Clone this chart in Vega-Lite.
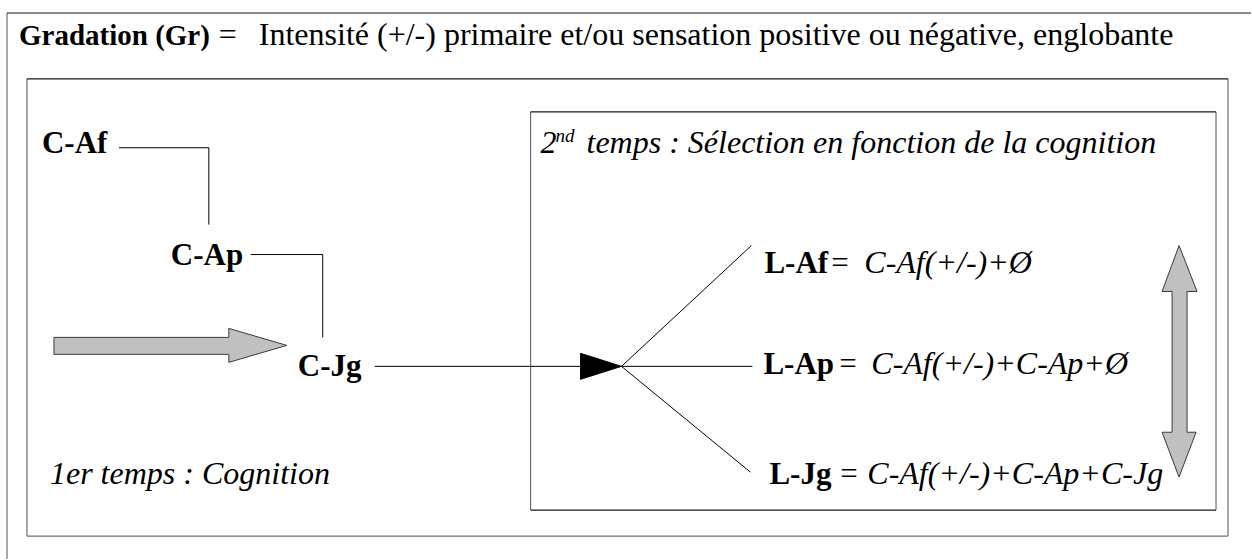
{
  "$schema": "https://vega.github.io/schema/vega-lite/v6.json",
  "width": 1252,
  "height": 560,
  "autosize": {"type": "fit", "contains": "padding"},
  "padding": 0,
  "background": "white",
  "config": {"view": {"stroke": null}},
  "datasets": {
    "frames": [
      {"x": 7, "y": 13, "x2": 1252, "y2": 13, "tone": "dark"},
      {"x": 7, "y": 13, "x2": 7, "y2": 560, "tone": "light"},
      {"x": 27, "y": 79, "x2": 1229, "y2": 79, "tone": "dark"},
      {"x": 27, "y": 79, "x2": 27, "y2": 537, "tone": "light"},
      {"x": 1229, "y": 79, "x2": 1229, "y2": 537, "tone": "light"},
      {"x": 27, "y": 537, "x2": 1229, "y2": 537, "tone": "light"},
      {"x": 531, "y": 112, "x2": 1217, "y2": 112, "tone": "dark"},
      {"x": 531, "y": 112, "x2": 531, "y2": 511, "tone": "light"},
      {"x": 1217, "y": 112, "x2": 1217, "y2": 511, "tone": "light"},
      {"x": 531, "y": 511, "x2": 1217, "y2": 511, "tone": "dark"}
    ],
    "links": [
      {"x": 119, "y": 148, "x2": 209, "y2": 148},
      {"x": 209, "y": 148, "x2": 209, "y2": 225},
      {"x": 251, "y": 255, "x2": 323, "y2": 255},
      {"x": 323, "y": 255, "x2": 323, "y2": 338},
      {"x": 375, "y": 367, "x2": 622, "y2": 367},
      {"x": 622, "y": 367, "x2": 752, "y2": 246},
      {"x": 622, "y": 367, "x2": 753, "y2": 367},
      {"x": 622, "y": 367, "x2": 751, "y2": 473}
    ],
    "shapes": [
      {"shape": "in", "i": 0, "x": 54, "y": 338},
      {"shape": "in", "i": 1, "x": 229, "y": 338},
      {"shape": "in", "i": 2, "x": 229, "y": 329},
      {"shape": "in", "i": 3, "x": 287, "y": 346},
      {"shape": "in", "i": 4, "x": 229, "y": 363},
      {"shape": "in", "i": 5, "x": 229, "y": 355},
      {"shape": "in", "i": 6, "x": 54, "y": 355},
      {"shape": "in", "i": 7, "x": 54, "y": 338},
      {"shape": "range", "i": 0, "x": 1180, "y": 246},
      {"shape": "range", "i": 1, "x": 1198, "y": 292},
      {"shape": "range", "i": 2, "x": 1188, "y": 292},
      {"shape": "range", "i": 3, "x": 1188, "y": 433},
      {"shape": "range", "i": 4, "x": 1197, "y": 433},
      {"shape": "range", "i": 5, "x": 1180, "y": 478},
      {"shape": "range", "i": 6, "x": 1163, "y": 433},
      {"shape": "range", "i": 7, "x": 1173, "y": 433},
      {"shape": "range", "i": 8, "x": 1173, "y": 292},
      {"shape": "range", "i": 9, "x": 1163, "y": 292},
      {"shape": "range", "i": 10, "x": 1180, "y": 246}
    ],
    "head": [
      {"shape": "head", "i": 0, "x": 581, "y": 354},
      {"shape": "head", "i": 1, "x": 622, "y": 367},
      {"shape": "head", "i": 2, "x": 581, "y": 380},
      {"shape": "head", "i": 3, "x": 581, "y": 354}
    ],
    "labels": [
      {"role": "title", "x": 19, "y": 45, "text": "Gradation (Gr)"},
      {"role": "regular", "x": 219, "y": 45, "text": "="},
      {"role": "regular", "x": 259, "y": 45, "text": "Intensité (+/-) primaire et/ou sensation positive ou négative, englobante"},
      {"role": "bold", "x": 42, "y": 153, "text": "C-Af"},
      {"role": "bold", "x": 171, "y": 265, "text": "C-Ap"},
      {"role": "bold", "x": 298, "y": 377, "text": "C-Jg"},
      {"role": "italic", "x": 50, "y": 485, "text": "1er temps : Cognition"},
      {"role": "italic", "x": 541, "y": 153, "text": "2"},
      {"role": "sup", "x": 556, "y": 142, "text": "nd"},
      {"role": "italic", "x": 587, "y": 153, "text": "temps : Sélection en fonction de la cognition"},
      {"role": "bold", "x": 765, "y": 273, "text": "L-Af"},
      {"role": "eq", "x": 832, "y": 273, "text": "="},
      {"role": "italic", "x": 865, "y": 273, "text": "C-Af(+/-)+Ø"},
      {"role": "bold", "x": 764, "y": 375, "text": "L-Ap"},
      {"role": "eq", "x": 840, "y": 375, "text": "="},
      {"role": "italic", "x": 872, "y": 375, "text": "C-Af(+/-)+C-Ap+Ø"},
      {"role": "bold", "x": 770, "y": 485, "text": "L-Jg"},
      {"role": "eq", "x": 841, "y": 485, "text": "="},
      {"role": "italic", "x": 868, "y": 485, "text": "C-Af(+/-)+C-Ap+C-Jg"}
    ]
  },
  "layer": [
    {
      "data": {"name": "frames"},
      "transform": [{"filter": "datum.tone == 'light'"}],
      "mark": {"type": "rule", "stroke": "#6e6e6e", "strokeWidth": 1.2},
      "encoding": {
        "x": {"field": "x", "type": "quantitative", "scale": {"domain": [0, 1252], "nice": false, "zero": false}, "axis": null},
        "y": {"field": "y", "type": "quantitative", "scale": {"domain": [0, 560], "nice": false, "zero": false, "reverse": true}, "axis": null},
        "x2": {"field": "x2"},
        "y2": {"field": "y2"}
      }
    },
    {
      "data": {"name": "frames"},
      "transform": [{"filter": "datum.tone == 'dark'"}],
      "mark": {"type": "rule", "stroke": "#1a1a1a", "strokeWidth": 1.2},
      "encoding": {
        "x": {"field": "x", "type": "quantitative", "axis": null},
        "y": {"field": "y", "type": "quantitative", "axis": null},
        "x2": {"field": "x2"},
        "y2": {"field": "y2"}
      }
    },
    {
      "data": {"name": "links"},
      "mark": {"type": "rule", "stroke": "#000000", "strokeWidth": 1},
      "encoding": {
        "x": {"field": "x", "type": "quantitative", "axis": null},
        "y": {"field": "y", "type": "quantitative", "axis": null},
        "x2": {"field": "x2"},
        "y2": {"field": "y2"}
      }
    },
    {
      "data": {"name": "shapes"},
      "mark": {"type": "line", "filled": true, "fill": "#c0c0c0", "stroke": "#3a3a3a", "strokeWidth": 1, "interpolate": "linear"},
      "encoding": {
        "x": {"field": "x", "type": "quantitative", "axis": null},
        "y": {"field": "y", "type": "quantitative", "axis": null},
        "order": {"field": "i", "type": "quantitative"},
        "detail": {"field": "shape", "type": "nominal"}
      }
    },
    {
      "data": {"name": "head"},
      "mark": {"type": "line", "filled": true, "fill": "#000000", "stroke": "#000000", "strokeWidth": 1},
      "encoding": {
        "x": {"field": "x", "type": "quantitative", "axis": null},
        "y": {"field": "y", "type": "quantitative", "axis": null},
        "order": {"field": "i", "type": "quantitative"}
      }
    },
    {
      "data": {"name": "labels"},
      "transform": [{"filter": "datum.role == 'title'"}],
      "mark": {"type": "text", "font": "Liberation Serif", "fontWeight": "bold", "fontSize": 29, "align": "left", "baseline": "alphabetic", "color": "#000000"},
      "encoding": {
        "x": {"field": "x", "type": "quantitative", "axis": null},
        "y": {"field": "y", "type": "quantitative", "axis": null},
        "text": {"field": "text"}
      }
    },
    {
      "data": {"name": "labels"},
      "transform": [{"filter": "datum.role == 'bold'"}],
      "mark": {"type": "text", "font": "Liberation Serif", "fontWeight": "bold", "fontSize": 31, "align": "left", "baseline": "alphabetic", "color": "#000000"},
      "encoding": {
        "x": {"field": "x", "type": "quantitative", "axis": null},
        "y": {"field": "y", "type": "quantitative", "axis": null},
        "text": {"field": "text"}
      }
    },
    {
      "data": {"name": "labels"},
      "transform": [{"filter": "datum.role == 'regular'"}],
      "mark": {"type": "text", "font": "Liberation Serif", "fontSize": 32, "align": "left", "baseline": "alphabetic", "color": "#000000"},
      "encoding": {
        "x": {"field": "x", "type": "quantitative", "axis": null},
        "y": {"field": "y", "type": "quantitative", "axis": null},
        "text": {"field": "text"}
      }
    },
    {
      "data": {"name": "labels"},
      "transform": [{"filter": "datum.role == 'eq'"}],
      "mark": {"type": "text", "font": "Liberation Serif", "fontSize": 31, "align": "left", "baseline": "alphabetic", "color": "#000000"},
      "encoding": {
        "x": {"field": "x", "type": "quantitative", "axis": null},
        "y": {"field": "y", "type": "quantitative", "axis": null},
        "text": {"field": "text"}
      }
    },
    {
      "data": {"name": "labels"},
      "transform": [{"filter": "datum.role == 'italic'"}],
      "mark": {"type": "text", "font": "Liberation Serif", "fontStyle": "italic", "fontSize": 32, "align": "left", "baseline": "alphabetic", "color": "#000000"},
      "encoding": {
        "x": {"field": "x", "type": "quantitative", "axis": null},
        "y": {"field": "y", "type": "quantitative", "axis": null},
        "text": {"field": "text"}
      }
    },
    {
      "data": {"name": "labels"},
      "transform": [{"filter": "datum.role == 'sup'"}],
      "mark": {"type": "text", "font": "Liberation Serif", "fontStyle": "italic", "fontSize": 19, "align": "left", "baseline": "alphabetic", "color": "#000000"},
      "encoding": {
        "x": {"field": "x", "type": "quantitative", "axis": null},
        "y": {"field": "y", "type": "quantitative", "axis": null},
        "text": {"field": "text"}
      }
    }
  ]
}
